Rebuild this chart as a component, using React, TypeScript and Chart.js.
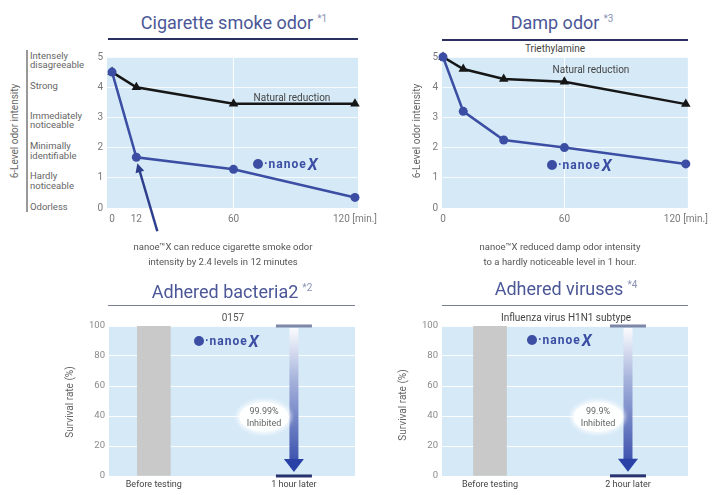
import React, { useEffect, useRef } from "react";
import { Chart, registerables } from "chart.js";
Chart.register(...registerables);
Chart.defaults.font.family = "Roboto, 'Open Sans', sans-serif";

// ---------------- data ----------------
const smokeMinutes = [0, 12, 60, 120];
const smokeNanoe = [4.5, 1.68, 1.28, 0.35];
const smokeNatural = [4.5, 4.0, 3.45, 3.45];
const smokeTickMinutes = [0, 12, 60, 120];

const dampMinutes = [0, 10, 30, 60, 120];
const dampNanoe = [5, 3.2, 2.25, 2.0, 1.46];
const dampNatural = [5, 4.6, 4.27, 4.18, 3.44];
const dampTickMinutes = [0, 60, 120];

const odorLevels = [0, 1, 2, 3, 4, 5];
const odorLevelNames = [
  "Odorless",
  "Hardly\nnoticeable",
  "Minimally\nidentifiable",
  "Immediately\nnoticeable",
  "Strong",
  "Intensely\ndisagreeable",
];

const survivalTicks = [0, 20, 40, 60, 80, 100];
const bacteriaLabels = ["Before testing", "1 hour later"];
const bacteriaSurvival = [100, 0.01];
const virusLabels = ["Before testing", "2 hour later"];
const virusSurvival = [100, 0.1];

// ---------------- styles ----------------
const BLUE = "#3b4ea3";
const BLACK = "#161616";
const PLOT_BG = "#d5e9f7";
const TITLE = "#4b5797";
const TICK = "#7a7a7a";
const TEXT = "#555";

const bgPlugin = {
  id: "plotBg",
  beforeDraw(chart: any) {
    const { ctx, chartArea: a } = chart;
    ctx.save();
    ctx.fillStyle = PLOT_BG;
    ctx.fillRect(a.left, a.top, a.right - a.left, a.bottom - a.top);
    ctx.restore();
  },
};

const smokeArrow = {
  id: "smokeArrow",
  afterDatasetsDraw(chart: any) {
    const pt = chart.getDatasetMeta(0).data[1];
    if (!pt) return;
    const ctx = chart.ctx;
    const tipX = pt.x + 1;
    const tipY = pt.y + 6;
    const tailX = pt.x + 21;
    const tailY = pt.y + 74;
    const ang = Math.atan2(tipY - tailY, tipX - tailX);
    ctx.save();
    ctx.strokeStyle = "#2d3f8c";
    ctx.fillStyle = "#2d3f8c";
    ctx.lineWidth = 2.5;
    ctx.beginPath();
    ctx.moveTo(tailX, tailY);
    ctx.lineTo(tipX - Math.cos(ang) * 6, tipY - Math.sin(ang) * 6);
    ctx.stroke();
    ctx.beginPath();
    ctx.moveTo(tipX, tipY);
    ctx.lineTo(tipX - Math.cos(ang) * 9 + Math.sin(ang) * 4.5, tipY - Math.sin(ang) * 9 - Math.cos(ang) * 4.5);
    ctx.lineTo(tipX - Math.cos(ang) * 9 - Math.sin(ang) * 4.5, tipY - Math.sin(ang) * 9 + Math.cos(ang) * 4.5);
    ctx.closePath();
    ctx.fill();
    ctx.restore();
  },
};

const survivalArrow = {
  id: "survivalArrow",
  afterDatasetsDraw(chart: any) {
    const d = chart.data.datasets[0].data;
    const xs = chart.scales.x;
    const ys = chart.scales.y;
    const x = xs.getPixelForValue(d[1].x);
    const yTop = ys.getPixelForValue(d[0].y);
    const yBot = ys.getPixelForValue(d[1].y);
    const ctx = chart.ctx;
    ctx.save();
    ctx.fillStyle = "#7d87a8";
    ctx.fillRect(x - 18, yTop - 1.5, 36, 3);
    const g = ctx.createLinearGradient(0, yTop, 0, yBot);
    g.addColorStop(0, "rgba(255,255,255,0.95)");
    g.addColorStop(0.35, "#a7b4dc");
    g.addColorStop(1, "#2a42a6");
    ctx.fillStyle = g;
    ctx.fillRect(x - 4.5, yTop + 2, 9, yBot - yTop - 18);
    ctx.fillStyle = "#2a42a6";
    ctx.beginPath();
    ctx.moveTo(x - 10, yBot - 17);
    ctx.lineTo(x + 10, yBot - 17);
    ctx.lineTo(x, yBot - 4);
    ctx.closePath();
    ctx.fill();
    ctx.fillStyle = "#28326e";
    ctx.fillRect(x - 18, yBot - 1.5, 36, 3);
    ctx.restore();
  },
};

function lineConfig(
  minutes: number[],
  nanoe: number[],
  natural: number[],
  tickMinutes: number[],
  xMin: number,
  xMax: number,
  yWidth: number,
  padding: any,
  plugins: any[]
) {
  return {
    type: "line",
    data: {
      datasets: [
        {
          label: "nanoe X",
          data: minutes.map((m, i) => ({ x: m, y: nanoe[i] })),
          borderColor: BLUE,
          backgroundColor: BLUE,
          borderWidth: 2.5,
          pointStyle: "circle",
          pointRadius: 4.5,
          pointBorderWidth: 0,
          clip: false,
        },
        {
          label: "Natural reduction",
          data: minutes.map((m, i) => ({ x: m, y: natural[i] })),
          borderColor: BLACK,
          backgroundColor: BLACK,
          borderWidth: 2.5,
          pointStyle: "triangle",
          pointRadius: 5.5,
          pointBorderWidth: 0,
          clip: false,
        },
      ],
    },
    options: {
      animation: false,
      responsive: false,
      maintainAspectRatio: false,
      layout: { padding },
      plugins: { legend: { display: false }, tooltip: { enabled: false } },
      scales: {
        x: {
          type: "linear",
          min: xMin,
          max: xMax,
          afterBuildTicks: (s: any) => {
            s.ticks = tickMinutes.map((v) => ({ value: v }));
          },
          afterFit: (s: any) => {
            s.height = 22;
          },
          ticks: {
            autoSkip: false,
            maxRotation: 0,
            padding: 5,
            color: TICK,
            font: { size: 10 },
            callback: (v: any) => (v === 120 ? "120 [min.]" : String(v)),
          },
          grid: {
            drawTicks: false,
            color: (c: any) => (c.tick && c.tick.value === 60 ? "#ffffff" : "rgba(0,0,0,0)"),
            lineWidth: 1,
          },
          border: { display: false },
        },
        y: {
          min: 0,
          max: 5,
          afterBuildTicks: (s: any) => {
            s.ticks = odorLevels.map((v) => ({ value: v }));
          },
          afterFit: (s: any) => {
            s.width = yWidth;
          },
          ticks: { padding: 4, color: TICK, font: { size: 10 } },
          grid: { drawTicks: false, color: "rgba(255,255,255,0.8)", lineWidth: 1 },
          border: { display: false },
        },
      },
    },
    plugins: [bgPlugin, ...plugins],
  };
}

function barConfig(labels: string[], survival: number[], xMin: number, xMax: number, yWidth: number, padding: any) {
  return {
    type: "bar",
    data: {
      datasets: [
        {
          label: "Survival rate",
          data: survival.map((v, i) => ({ x: i, y: v })),
          backgroundColor: ["#c9c9c9", "rgba(0,0,0,0)"],
          barThickness: 33,
        },
      ],
    },
    options: {
      animation: false,
      responsive: false,
      maintainAspectRatio: false,
      layout: { padding },
      plugins: { legend: { display: false }, tooltip: { enabled: false } },
      scales: {
        x: {
          type: "linear",
          min: xMin,
          max: xMax,
          offset: false,
          afterBuildTicks: (s: any) => {
            s.ticks = labels.map((_, i) => ({ value: i }));
          },
          afterFit: (s: any) => {
            s.height = 19;
          },
          ticks: {
            autoSkip: false,
            maxRotation: 0,
            padding: 3,
            color: "#444",
            font: { size: 9 },
            callback: (v: any) => labels[v],
          },
          grid: { display: false, drawTicks: false, offset: false },
          border: { display: false },
        },
        y: {
          min: 0,
          max: 100,
          afterBuildTicks: (s: any) => {
            s.ticks = survivalTicks.map((v) => ({ value: v }));
          },
          afterFit: (s: any) => {
            s.width = yWidth;
          },
          ticks: { padding: 4, color: "#8a8a8a", font: { size: 9.5 } },
          grid: { drawTicks: false, color: "rgba(255,255,255,0.9)", lineWidth: 1 },
          border: { display: false },
        },
      },
    },
    plugins: [bgPlugin, survivalArrow],
  };
}

function ChartCanvas({ left, top, width, height, make }: any) {
  const ref = useRef<HTMLCanvasElement | null>(null);
  useEffect(() => {
    const chart = new Chart(ref.current as any, make());
    return () => chart.destroy();
  }, []);
  return (
    <canvas
      ref={ref}
      width={width}
      height={height}
      style={{ position: "absolute", left, top, width, height }}
    />
  );
}

function Title({ cx, top, text, note }: any) {
  return (
    <div
      style={{
        position: "absolute",
        left: cx - 160,
        top,
        width: 320,
        textAlign: "center",
        fontSize: 18,
        lineHeight: "22px",
        color: TITLE,
        whiteSpace: "nowrap",
      }}
    >
      {text}
      <span style={{ fontSize: 10, verticalAlign: "top", lineHeight: "14px", color: "#8b92b4", marginLeft: 4 }}>
        {note}
      </span>
    </div>
  );
}

function Rule({ left, top, width, color, h }: any) {
  return <div style={{ position: "absolute", left, top, width, height: h, background: color }} />;
}

function Txt({ cx, top, w, size, color, children, lh }: any) {
  return (
    <div
      style={{
        position: "absolute",
        left: cx - w / 2,
        top,
        width: w,
        textAlign: "center",
        fontSize: size,
        lineHeight: (lh || size + 4) + "px",
        color,
        whiteSpace: "pre",
      }}
    >
      {children}
    </div>
  );
}

function VTitle({ cx, cy, text, size }: any) {
  const w = 160;
  return (
    <div
      style={{
        position: "absolute",
        left: cx - w / 2,
        top: cy - 7,
        width: w,
        height: 14,
        lineHeight: "14px",
        textAlign: "center",
        fontSize: size,
        color: "#666",
        transform: "rotate(-90deg)",
        whiteSpace: "nowrap",
      }}
    >
      {text}
    </div>
  );
}

function Logo({ left, cy }: any) {
  return (
    <div
      style={{
        position: "absolute",
        left,
        top: cy - 10,
        height: 20,
        display: "flex",
        alignItems: "center",
        color: BLUE,
        fontWeight: 700,
        whiteSpace: "nowrap",
      }}
    >
      <span style={{ display: "inline-block", width: 10, height: 10, borderRadius: 5, background: BLUE }} />
      <span style={{ fontSize: 12, letterSpacing: 1, marginLeft: 1 }}>·nanoe</span>
      <span style={{ fontSize: 16, fontStyle: "italic", marginLeft: 1 }}>X</span>
    </div>
  );
}

function Bubble({ cx, cy, lines }: any) {
  return (
    <div
      style={{
        position: "absolute",
        left: cx - 25,
        top: cy - 15,
        width: 50,
        height: 30,
        borderRadius: "50%",
        background: "rgba(255,255,255,0.97)",
        boxShadow: "0 0 4px 2px rgba(255,255,255,0.8)",
        textAlign: "center",
        fontSize: 9,
        lineHeight: "12px",
        color: "#666",
        paddingTop: 3,
        boxSizing: "border-box",
        whiteSpace: "pre",
      }}
    >
      {lines}
    </div>
  );
}

export default function App() {
  const levelPix = (v: number) => 208 - v * 30.2;
  return (
    <div
      style={{
        position: "absolute",
        left: 0,
        top: 0,
        width: 713,
        height: 495,
        overflow: "hidden",
        background: "#fff",
        fontFamily: "Roboto, 'Open Sans', sans-serif",
      }}
    >
      {/* Panel 1: cigarette smoke */}
      <Title cx={234} top={12} text="Cigarette smoke odor" note="*1" />
      <Rule left={108} top={38} width={250} h={1.5} color="#2a3060" />
      <ChartCanvas
        left={90}
        top={45}
        width={300}
        height={195}
        make={() =>
          lineConfig(smokeMinutes, smokeNanoe, smokeNatural, smokeTickMinutes, -2.5, 121.5, 17,
            { left: 0, top: 12, right: 32, bottom: 10 }, [smokeArrow])
        }
      />
      <Rule left={26} top={50} width={1.5} h={162} color="#999" />
      <VTitle cx={15} cy={131} text="6-Level odor intensity" size={10} />
      {odorLevels.map((lv, i) => {
        const lines = odorLevelNames[i].split("\n");
        const h = lines.length * 9.5;
        const c = levelPix(lv) + (lines.length > 1 ? 3 : -1);
        return (
          <div
            key={lv}
            style={{
              position: "absolute",
              left: 30,
              top: c - h / 2,
              fontSize: 9.5,
              lineHeight: "9.5px",
              color: "#666",
              whiteSpace: "pre",
            }}
          >
            {odorLevelNames[i]}
          </div>
        );
      })}
      <Txt cx={292} top={91} w={120} size={10} color="#444">Natural reduction</Txt>
      <Logo left={253} cy={164} />
      <Txt cx={223} top={239} w={240} size={9.5} color={TEXT} lh={15}>
        {"nanoe™X can reduce cigarette smoke odor\nintensity by 2.4 levels in 12 minutes"}
      </Txt>

      {/* Panel 2: damp odor */}
      <Title cx={562} top={12} text="Damp odor" note="*3" />
      <Rule left={442} top={39} width={246} h={1.5} color="#2a3060" />
      <Txt cx={555} top={42} w={150} size={10} color="#444">Triethylamine</Txt>
      <ChartCanvas
        left={415}
        top={45}
        width={298}
        height={195}
        make={() =>
          lineConfig(dampMinutes, dampNanoe, dampNatural, dampTickMinutes, -0.5, 121, 27,
            { left: 0, top: 12, right: 25, bottom: 10 }, [])
        }
      />
      <VTitle cx={417} cy={131} text="6-Level odor intensity" size={10} />
      <Txt cx={591} top={63} w={120} size={10} color="#444">Natural reduction</Txt>
      <Logo left={547} cy={165} />
      <Txt cx={560} top={239} w={240} size={9.5} color={TEXT} lh={15}>
        {"nanoe™X reduced damp odor intensity\nto a hardly noticeable level in 1 hour."}
      </Txt>

      {/* Panel 3: adhered bacteria */}
      <Title cx={232} top={281} text="Adhered bacteria2" note="*2" />
      <Rule left={108} top={305} width={247} h={1} color="#7a8090" />
      <Txt cx={233} top={311} w={100} size={10} color="#555">0157</Txt>
      <ChartCanvas
        left={80}
        top={312}
        width={295}
        height={183}
        make={() => barConfig(bacteriaLabels, bacteriaSurvival, -0.32, 1.436, 29, { left: 0, top: 14, right: 20, bottom: 0 })}
      />
      <VTitle cx={70} cy={402} text="Survival rate (%)" size={10} />
      <Logo left={194} cy={341} />
      <Bubble cx={264} cy={417} lines={"99.99%\nInhibited"} />

      {/* Panel 4: adhered viruses */}
      <Title cx={566} top={278} text="Adhered viruses" note="*4" />
      <Rule left={442} top={305} width={246} h={1} color="#7a8090" />
      <Txt cx={566} top={311} w={200} size={10} color="#444">Influenza virus H1N1 subtype</Txt>
      <ChartCanvas
        left={413}
        top={312}
        width={300}
        height={183}
        make={() => barConfig(virusLabels, virusSurvival, -0.348, 1.435, 29, { left: 0, top: 14, right: 25, bottom: 0 })}
      />
      <VTitle cx={403} cy={405} text="Survival rate (%)" size={10} />
      <Logo left={527} cy={340} />
      <Bubble cx={598} cy={417} lines={"99.9%\nInhibited"} />
    </div>
  );
}
